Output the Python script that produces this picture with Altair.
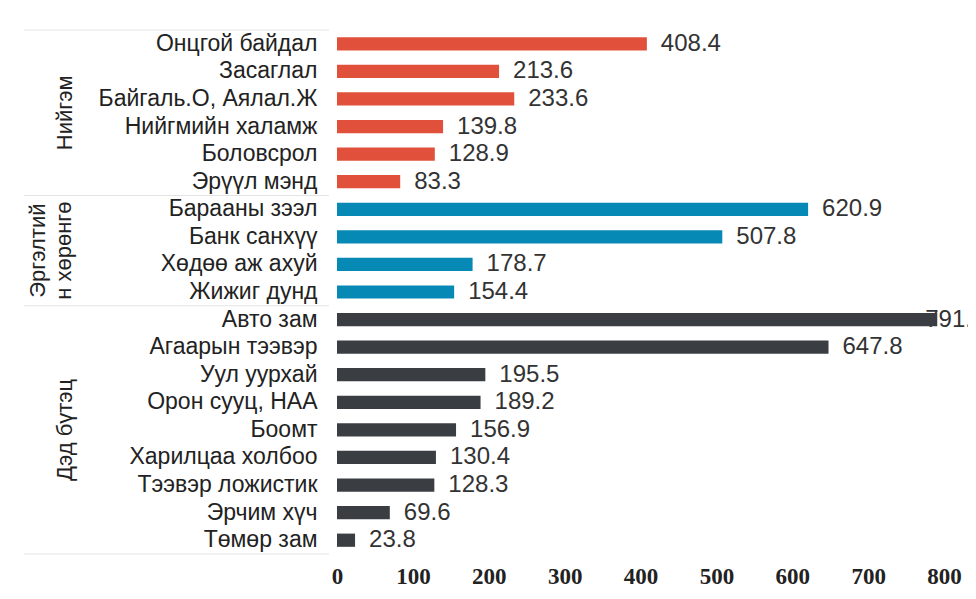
import altair as alt
import pandas as pd

categories = [
    "Онцгой байдал", "Засаглал", "Байгаль.О, Аялал.Ж", "Нийгмийн халамж",
    "Боловсрол", "Эрүүл мэнд",
    "Барааны зээл", "Банк санхүү", "Хөдөө аж ахуй ", "Жижиг дунд",
    "Авто зам", "Агаарын тээвэр", "Уул уурхай", "Орон сууц, НАА", "Боомт",
    "Харилцаа холбоо", "Тээвэр ложистик", "Эрчим хүч", "Төмөр зам",
]
values = [
    408.4, 213.6, 233.6, 139.8, 128.9, 83.3,
    620.9, 507.8, 178.7, 154.4,
    791.1, 647.8, 195.5, 189.2, 156.9, 130.4, 128.3, 69.6, 23.8,
]
groups = ["Нийгэм"] * 6 + ["Эргэлтийн хөрөнгө"] * 4 + ["Дэд бүтэц"] * 9
group_names = ["Нийгэм", "Эргэлтийн хөрөнгө", "Дэд бүтэц"]
group_labels = ["Нийгэм", "Эргэлтий\nн хөрөнгө", "Дэд бүтэц"]
group_colors = ["#E1503A", "#0789B5", "#3A3E43"]
x_ticks = [0, 100, 200, 300, 400, 500, 600, 700, 800]

df = pd.DataFrame({"cat": categories, "val": values, "grp": groups,
                   "row": list(range(len(categories)))})

g = df.groupby("grp", sort=False)["row"].agg(["mean", "min", "max"]).reset_index()
g["label"] = [group_labels[group_names.index(n)] for n in g["grp"]]
gdf = g.rename(columns={"mean": "center"})

seps = sorted(set([r - 0.5 for r in g["min"]] + [g["max"].max() + 0.5]))
sdf = pd.DataFrame({"pos": seps})

n = len(categories)
yscale_band = alt.Scale(type="band", domain=categories, paddingInner=0.52, paddingOuter=0.26)
yscale_q = alt.Scale(domain=[-0.5, n - 0.5], reverse=True, nice=False, zero=False)
xscale = alt.Scale(domain=[0, 800], nice=False)

bars = alt.Chart(df).mark_bar().encode(
    y=alt.Y("cat:N", scale=yscale_band, sort=categories, title=None,
            axis=alt.Axis(labelFont="Liberation Sans", labelFontSize=23, labelColor="#222222",
                          labelPadding=20, ticks=False, domain=False, labelLimit=400)),
    x=alt.X("val:Q", scale=xscale, title=None,
            axis=alt.Axis(values=x_ticks, grid=False, domain=False, ticks=False,
                          labelFlush=False, labelOverlap=False,
                          labelFont="Liberation Serif", labelFontSize=23, labelFontWeight="bold",
                          labelColor="#222222", labelPadding=11)),
    color=alt.Color("grp:N", scale=alt.Scale(domain=group_names, range=group_colors), legend=None),
)

text_style = dict(align="left", baseline="middle", font="Liberation Sans", fontSize=24, color="#333333")

vals = alt.Chart(df).transform_filter("datum.val < 750").mark_text(dx=14, **text_style).encode(
    y=alt.Y("cat:N", scale=yscale_band, sort=categories, axis=None),
    x=alt.X("val:Q", scale=xscale),
    text=alt.Text("val:Q", format=".1f"),
)
vals_big = alt.Chart(df).transform_filter("datum.val >= 750").mark_text(dx=-12, **text_style).encode(
    y=alt.Y("cat:N", scale=yscale_band, sort=categories, axis=None),
    x=alt.X("val:Q", scale=xscale),
    text=alt.Text("val:Q", format=".1f"),
)

glab1 = alt.Chart(gdf).transform_filter("indexof(datum.label, '\\n') < 0").mark_text(
    angle=270, align="center", baseline="middle", font="Liberation Sans", fontSize=22,
    color="#222222").encode(
    y=alt.Y("center:Q", scale=yscale_q, axis=None),
    x=alt.value(-272),
    text="label:N",
)
glab2 = alt.Chart(gdf).transform_filter("indexof(datum.label, '\\n') >= 0").mark_text(
    angle=270, align="center", baseline="middle", font="Liberation Sans", fontSize=22,
    color="#222222", lineBreak="\n", lineHeight=26).encode(
    y=alt.Y("center:Q", scale=yscale_q, axis=None),
    x=alt.value(-299),
    text="label:N",
)

rules = alt.Chart(sdf).mark_rule(color="#e4e4e4", strokeWidth=1).encode(
    y=alt.Y("pos:Q", scale=yscale_q, axis=None),
    x=alt.value(-313),
    x2=alt.value(-8),
)

chart = alt.layer(rules, vals_big, bars, vals, glab1, glab2).resolve_scale(y="independent").properties(
    width=607, height=524,
    background="white",
    autosize=alt.AutoSizeParams(type="none"),
    padding={"left": 329, "top": 22, "right": 24, "bottom": 37},
).configure_view(stroke=None)

chart.save("out.html", embed_options={"renderer": "svg", "actions": False})
